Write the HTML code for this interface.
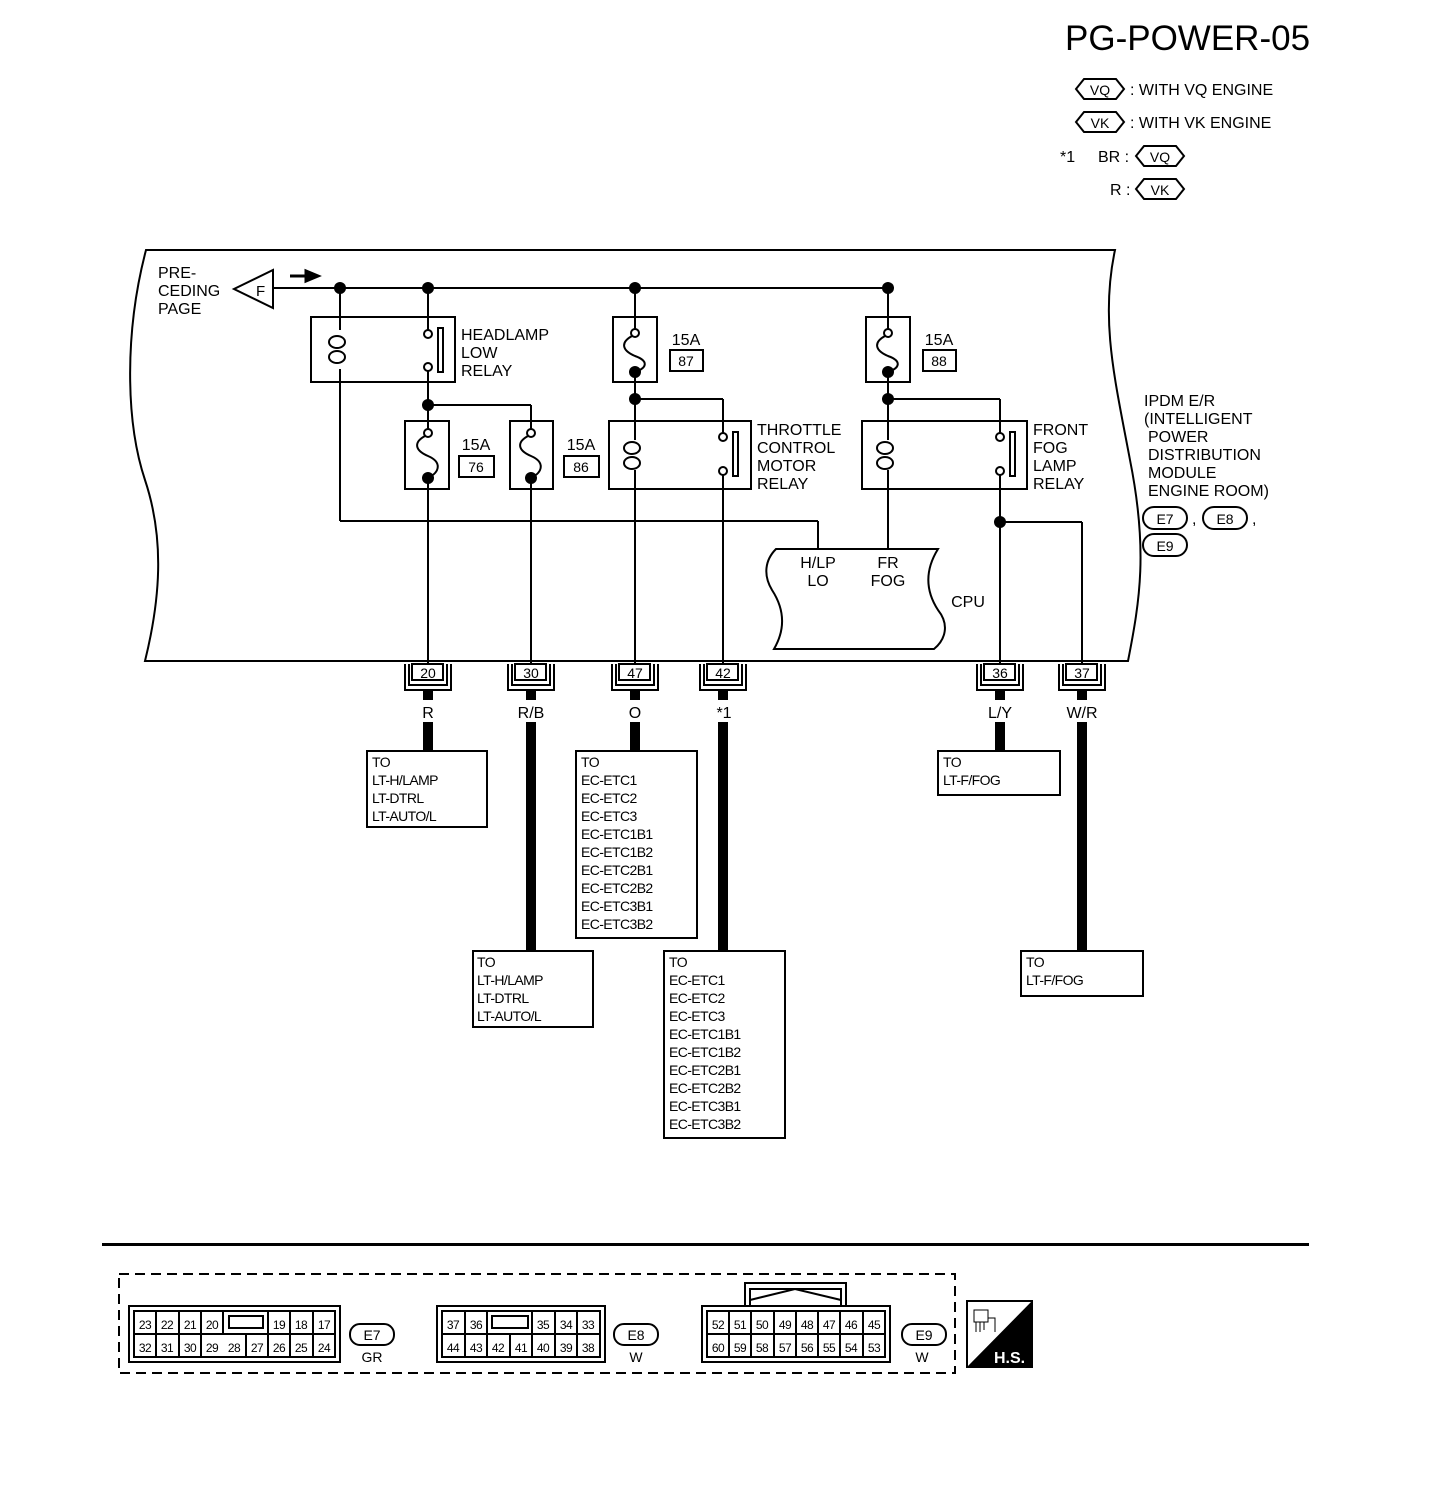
<!DOCTYPE html>
<html><head><meta charset="utf-8"><style>
html,body{margin:0;padding:0;background:#fff;}
svg{display:block;}
text{font-family:"Liberation Sans",sans-serif;fill:#000;}
.t{font-size:16px;}
.s{font-size:14px;}
</style></head><body>
<svg width="1456" height="1502" viewBox="0 0 1456 1502" xmlns="http://www.w3.org/2000/svg">
<g fill="none" stroke="#000" stroke-width="2">
<path d="M146,250 L1115,250 C1100,320 1115,380 1130,460 C1148,550 1140,600 1128,661 L145,661 C160,600 165,540 145,480 C125,420 125,330 146,250 Z"/>
<path d="M273,270 L273,308 L234,289 Z"/>
<line x1="273" y1="288" x2="888" y2="288"/>
<!-- headlamp relay -->
<rect x="311" y="317" width="144" height="65"/>
<line x1="340" y1="288" x2="340" y2="330"/>
<ellipse cx="337" cy="342" rx="8" ry="6"/><ellipse cx="337" cy="357" rx="8" ry="6"/>
<line x1="340" y1="369" x2="340" y2="521"/>
<line x1="340" y1="521" x2="818" y2="521"/><line x1="818" y1="521" x2="818" y2="549"/>
<line x1="428" y1="288" x2="428" y2="330"/>
<circle cx="428" cy="334" r="4"/><circle cx="428" cy="367" r="4"/>
<rect x="438" y="328" width="5" height="44"/>
<line x1="428" y1="371" x2="428" y2="421"/>
<line x1="428" y1="405" x2="531" y2="405"/><line x1="531" y1="405" x2="531" y2="421"/>
<!-- fuses -->
<rect x="405" y="421" width="44" height="68"/>
<circle cx="428" cy="433" r="4"/>
<path d="M425,436 C414,442 414,450 428,456 C442,462 440,472 428,478"/>
<line x1="428" y1="478" x2="428" y2="665"/>
<rect x="510" y="421" width="43" height="68"/>
<line x1="531" y1="421" x2="531" y2="429"/><line x1="428" y1="421" x2="428" y2="429"/>
<circle cx="531" cy="433" r="4"/>
<path d="M528,436 C517,442 517,450 531,456 C545,462 543,472 531,478"/>
<line x1="531" y1="478" x2="531" y2="665"/>
<rect x="459" y="456" width="35" height="21"/><rect x="564" y="456" width="35" height="21"/>
<rect x="613" y="317" width="44" height="65"/>
<line x1="635" y1="288" x2="635" y2="329"/>
<circle cx="635" cy="333" r="4"/>
<path d="M632,336 C621,342 621,350 635,356 C649,361 647,368 635,372"/>
<line x1="635" y1="372" x2="635" y2="440"/>
<line x1="635" y1="470" x2="635" y2="665"/>
<rect x="670" y="350" width="33" height="21"/>
<line x1="635" y1="399" x2="723" y2="399"/><line x1="723" y1="399" x2="723" y2="433"/>
<rect x="609" y="421" width="142" height="68"/>
<ellipse cx="632" cy="448" rx="8" ry="6"/><ellipse cx="632" cy="463" rx="8" ry="6"/>
<circle cx="723" cy="437" r="4"/><circle cx="723" cy="471" r="4"/>
<rect x="733" y="432" width="5" height="44"/>
<line x1="723" y1="475" x2="723" y2="665"/>
<rect x="866" y="317" width="44" height="65"/>
<line x1="888" y1="288" x2="888" y2="329"/>
<circle cx="888" cy="333" r="4"/>
<path d="M885,336 C874,342 874,350 888,356 C902,361 900,368 888,372"/>
<line x1="888" y1="372" x2="888" y2="440"/>
<line x1="888" y1="470" x2="888" y2="549"/>
<rect x="923" y="350" width="33" height="21"/>
<line x1="888" y1="399" x2="1000" y2="399"/><line x1="1000" y1="399" x2="1000" y2="433"/>
<rect x="862" y="421" width="165" height="68"/>
<ellipse cx="885" cy="448" rx="8" ry="6"/><ellipse cx="885" cy="463" rx="8" ry="6"/>
<circle cx="1000" cy="437" r="4"/><circle cx="1000" cy="471" r="4"/>
<rect x="1010" y="432" width="5" height="44"/>
<line x1="1000" y1="475" x2="1000" y2="665"/>
<line x1="1000" y1="522" x2="1082" y2="522"/><line x1="1082" y1="522" x2="1082" y2="665"/>
<path d="M776,549 L938,549 C925,570 925,590 938,610 C950,625 945,640 934,649 L774,649 C785,630 785,610 772,590 C763,575 765,560 776,549 Z"/>
<rect x="412" y="664" width="31" height="16"/><path d="M405,664 V690 H451 V664 M409,664 V685 H447 V664"/>
<rect x="515" y="664" width="31" height="16"/><path d="M508,664 V690 H554 V664 M512,664 V685 H550 V664"/>
<rect x="619" y="664" width="31" height="16"/><path d="M612,664 V690 H658 V664 M616,664 V685 H654 V664"/>
<rect x="707" y="664" width="31" height="16"/><path d="M700,664 V690 H746 V664 M704,664 V685 H742 V664"/>
<rect x="984" y="664" width="31" height="16"/><path d="M977,664 V690 H1023 V664 M981,664 V685 H1019 V664"/>
<rect x="1066" y="664" width="31" height="16"/><path d="M1059,664 V690 H1105 V664 M1063,664 V685 H1101 V664"/>
<rect x="367" y="751" width="120" height="76"/>
<rect x="473" y="951" width="120" height="76"/>
<rect x="576" y="751" width="121" height="187"/>
<rect x="664" y="951" width="121" height="187"/>
<rect x="938" y="751" width="122" height="44"/>
<rect x="1021" y="951" width="122" height="45"/>
<path d="M1076,89 L1084,79 L1116,79 L1124,89 L1116,99 L1084,99 Z"/>
<path d="M1076,122 L1084,112 L1116,112 L1124,122 L1116,132 L1084,132 Z"/>
<path d="M1136,156 L1144,146 L1176,146 L1184,156 L1176,166 L1144,166 Z"/>
<path d="M1136,189 L1144,179 L1176,179 L1184,189 L1176,199 L1144,199 Z"/>
<rect x="1143" y="507" width="44" height="22" rx="11"/>
<rect x="1203" y="507" width="44" height="22" rx="11"/>
<rect x="1143" y="534" width="44" height="22" rx="11"/>
</g>
<g fill="#000">
<circle cx="340" cy="288" r="6"/><circle cx="428" cy="288" r="6"/><circle cx="635" cy="288" r="6"/><circle cx="888" cy="288" r="6"/>
<circle cx="428" cy="405" r="6"/><circle cx="635" cy="399" r="6"/><circle cx="888" cy="399" r="6"/><circle cx="1000" cy="522" r="6"/>
<circle cx="428" cy="478" r="6"/><circle cx="531" cy="478" r="6"/><circle cx="635" cy="372" r="6"/><circle cx="888" cy="372" r="6"/>
<path d="M290,276 L306,276 L306,271 L318,276 L306,281 L306,276 Z" stroke="#000" stroke-width="3"/>
<rect x="423" y="690" width="10" height="10"/><rect x="423" y="722" width="10" height="29"/>
<rect x="526" y="690" width="10" height="10"/><rect x="526" y="722" width="10" height="229"/>
<rect x="630" y="690" width="10" height="10"/><rect x="630" y="722" width="10" height="29"/>
<rect x="718" y="690" width="10" height="10"/><rect x="718" y="722" width="10" height="229"/>
<rect x="995" y="690" width="10" height="10"/><rect x="995" y="722" width="10" height="29"/>
<rect x="1077" y="690" width="10" height="10"/><rect x="1077" y="722" width="10" height="229"/>
<rect x="102" y="1243" width="1207" height="3"/>
</g>
<text x="1065" y="50" font-size="35">PG-POWER-05</text>
<text x="1100" y="95" class="s" text-anchor="middle">VQ</text><text x="1130" y="95" class="t">: WITH VQ ENGINE</text>
<text x="1100" y="128" class="s" text-anchor="middle">VK</text><text x="1130" y="128" class="t">: WITH VK ENGINE</text>
<text x="1060" y="162" class="t">*1</text><text x="1098" y="162" class="t">BR :</text><text x="1160" y="162" class="s" text-anchor="middle">VQ</text>
<text x="1110" y="195" class="t">R :</text><text x="1160" y="195" class="s" text-anchor="middle">VK</text>
<g class="t">
<text x="158" y="278">PRE-</text><text x="158" y="296">CEDING</text><text x="158" y="314">PAGE</text>
<text x="256" y="296" font-size="15">F</text>
<text x="461" y="340">HEADLAMP</text><text x="461" y="358">LOW</text><text x="461" y="376">RELAY</text>
<text x="757" y="435">THROTTLE</text><text x="757" y="453">CONTROL</text><text x="757" y="471">MOTOR</text><text x="757" y="489">RELAY</text>
<text x="1033" y="435">FRONT</text><text x="1033" y="453">FOG</text><text x="1033" y="471">LAMP</text><text x="1033" y="489">RELAY</text>
<text x="1144" y="406">IPDM E/R</text><text x="1144" y="424">(INTELLIGENT</text><text x="1148" y="442">POWER</text><text x="1148" y="460">DISTRIBUTION</text><text x="1148" y="478">MODULE</text><text x="1148" y="496">ENGINE ROOM)</text>
<text x="1165" y="524" text-anchor="middle" class="s">E7</text><text x="1192" y="524">,</text>
<text x="1225" y="524" text-anchor="middle" class="s">E8</text><text x="1252" y="524">,</text>
<text x="1165" y="551" text-anchor="middle" class="s">E9</text>
<text x="818" y="568" text-anchor="middle">H/LP</text><text x="818" y="586" text-anchor="middle">LO</text>
<text x="888" y="568" text-anchor="middle">FR</text><text x="888" y="586" text-anchor="middle">FOG</text>
<text x="968" y="607" text-anchor="middle">CPU</text>
<text x="476" y="450" text-anchor="middle">15A</text><text x="581" y="450" text-anchor="middle">15A</text>
<text x="686" y="345" text-anchor="middle">15A</text><text x="939" y="345" text-anchor="middle">15A</text>
</g>
<g class="s" text-anchor="middle">
<text x="476" y="472">76</text><text x="581" y="472">86</text><text x="686" y="366">87</text><text x="939" y="366">88</text>
<text x="428" y="678">20</text><text x="531" y="678">30</text><text x="635" y="678">47</text><text x="723" y="678">42</text><text x="1000" y="678">36</text><text x="1082" y="678">37</text>
</g>
<g class="t" text-anchor="middle">
<text x="428" y="718">R</text><text x="531" y="718">R/B</text><text x="635" y="718">O</text><text x="724" y="718">*1</text><text x="1000" y="718">L/Y</text><text x="1082" y="718">W/R</text>
</g>
<g class="s" letter-spacing="-0.6">
<text x="372" y="767">TO</text><text x="372" y="785">LT-H/LAMP</text><text x="372" y="803">LT-DTRL</text><text x="372" y="821">LT-AUTO/L</text>
<text x="477" y="967">TO</text><text x="477" y="985">LT-H/LAMP</text><text x="477" y="1003">LT-DTRL</text><text x="477" y="1021">LT-AUTO/L</text>
<text x="581" y="767">TO</text><text x="581" y="785">EC-ETC1</text><text x="581" y="803">EC-ETC2</text><text x="581" y="821">EC-ETC3</text><text x="581" y="839">EC-ETC1B1</text><text x="581" y="857">EC-ETC1B2</text><text x="581" y="875">EC-ETC2B1</text><text x="581" y="893">EC-ETC2B2</text><text x="581" y="911">EC-ETC3B1</text><text x="581" y="929">EC-ETC3B2</text>
<text x="669" y="967">TO</text><text x="669" y="985">EC-ETC1</text><text x="669" y="1003">EC-ETC2</text><text x="669" y="1021">EC-ETC3</text><text x="669" y="1039">EC-ETC1B1</text><text x="669" y="1057">EC-ETC1B2</text><text x="669" y="1075">EC-ETC2B1</text><text x="669" y="1093">EC-ETC2B2</text><text x="669" y="1111">EC-ETC3B1</text><text x="669" y="1129">EC-ETC3B2</text>
<text x="943" y="767">TO</text><text x="943" y="785">LT-F/FOG</text>
<text x="1026" y="967">TO</text><text x="1026" y="985">LT-F/FOG</text>
</g>
<g fill="none" stroke="#000" stroke-width="2">
<rect x="119" y="1274" width="836" height="99" stroke-dasharray="10,6"/>
<rect x="129" y="1306" width="211" height="56"/><rect x="134" y="1311" width="201" height="46"/>
<path d="M134,1334 H335 M156,1311 V1357 M179,1311 V1357 M201,1311 V1357 M223,1311 V1334 M246,1334 V1357 M268,1311 V1357 M290,1311 V1357 M313,1311 V1357"/>
<rect x="229" y="1316" width="34" height="12"/>
<rect x="437" y="1306" width="168" height="56"/><rect x="442" y="1311" width="158" height="46"/>
<path d="M442,1334 H600 M465,1311 V1357 M487,1311 V1357 M510,1334 V1357 M532,1311 V1357 M555,1311 V1357 M577,1311 V1357"/>
<rect x="492" y="1316" width="36" height="12"/>
<rect x="702" y="1306" width="188" height="56"/><rect x="707" y="1311" width="178" height="46"/>
<path d="M745,1306 V1283 H846 V1306 M750,1306 V1289 H841 V1306 M750,1300 L795,1289 L841,1300"/>
<path d="M707,1334 H885 M729,1311 V1357 M751,1311 V1357 M774,1311 V1357 M796,1311 V1357 M818,1311 V1357 M840,1311 V1357 M863,1311 V1357"/>
<rect x="350" y="1324" width="44" height="21" rx="10"/>
<rect x="614" y="1324" width="44" height="21" rx="10"/>
<rect x="902" y="1324" width="44" height="21" rx="10"/>
<rect x="967" y="1301" width="65" height="66"/>
</g>
<path d="M967,1367 L1032,1301 L1032,1367 Z" fill="#000"/>
<g fill="none" stroke="#000" stroke-width="1"><rect x="974" y="1310" width="14" height="12"/><path d="M976,1322 V1332 M980,1322 V1332 M984,1322 V1330 M988,1318 H995 V1332"/></g>
<text x="994" y="1363" font-size="16" font-weight="bold" style="fill:#fff">H.S.</text>
<g font-size="12" text-anchor="middle" letter-spacing="-0.5">
<text x="145" y="1329">23</text><text x="167" y="1329">22</text><text x="190" y="1329">21</text><text x="212" y="1329">20</text><text x="279" y="1329">19</text><text x="301" y="1329">18</text><text x="324" y="1329">17</text>
<text x="145" y="1352">32</text><text x="167" y="1352">31</text><text x="190" y="1352">30</text><text x="212" y="1352">29</text><text x="234" y="1352">28</text><text x="257" y="1352">27</text><text x="279" y="1352">26</text><text x="301" y="1352">25</text><text x="324" y="1352">24</text>
<text x="453" y="1329">37</text><text x="476" y="1329">36</text><text x="543" y="1329">35</text><text x="566" y="1329">34</text><text x="588" y="1329">33</text>
<text x="453" y="1352">44</text><text x="476" y="1352">43</text><text x="498" y="1352">42</text><text x="521" y="1352">41</text><text x="543" y="1352">40</text><text x="566" y="1352">39</text><text x="588" y="1352">38</text>
<text x="718" y="1329">52</text><text x="740" y="1329">51</text><text x="762" y="1329">50</text><text x="785" y="1329">49</text><text x="807" y="1329">48</text><text x="829" y="1329">47</text><text x="851" y="1329">46</text><text x="874" y="1329">45</text>
<text x="718" y="1352">60</text><text x="740" y="1352">59</text><text x="762" y="1352">58</text><text x="785" y="1352">57</text><text x="807" y="1352">56</text><text x="829" y="1352">55</text><text x="851" y="1352">54</text><text x="874" y="1352">53</text>
</g>
<g class="s" text-anchor="middle">
<text x="372" y="1340">E7</text><text x="372" y="1362">GR</text>
<text x="636" y="1340">E8</text><text x="636" y="1362">W</text>
<text x="924" y="1340">E9</text><text x="922" y="1362">W</text>
</g>
</svg>
</body></html>
